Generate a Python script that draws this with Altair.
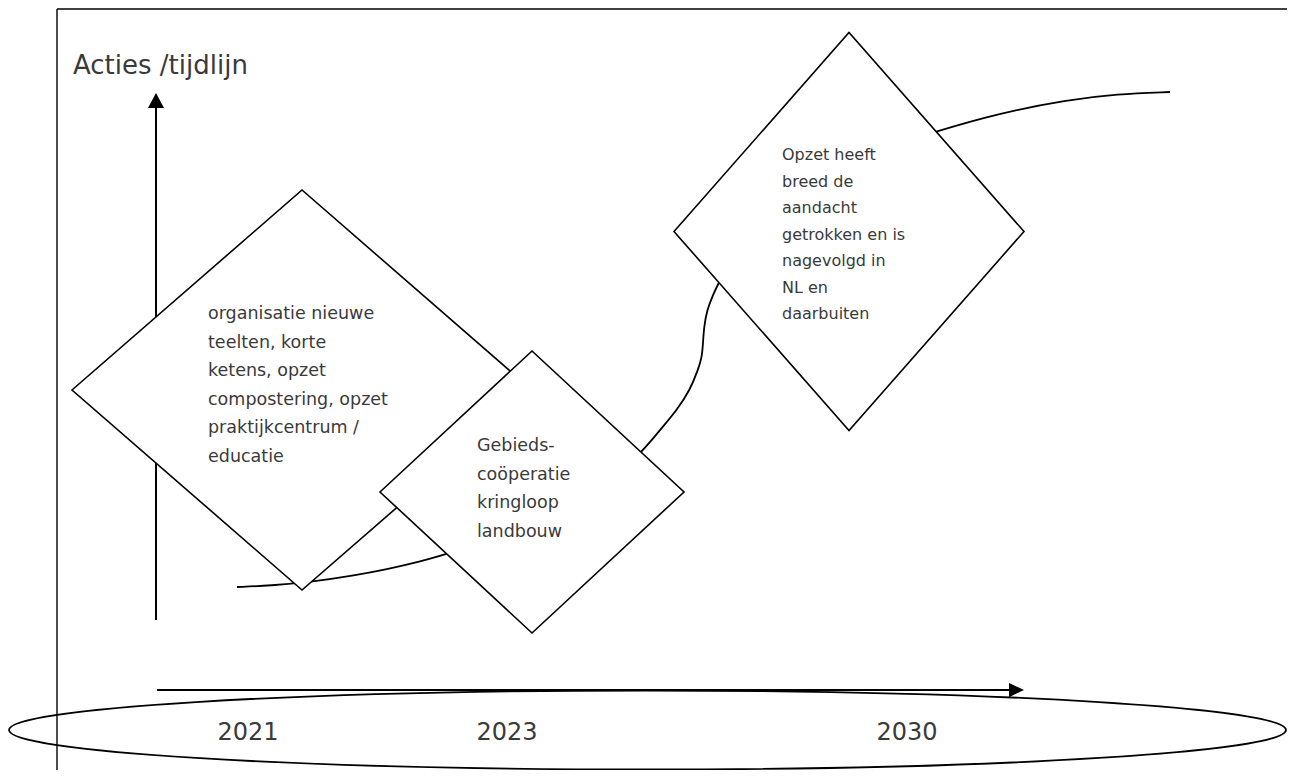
import altair as alt
import pandas as pd

# ---------------- data (page-pixel coordinate system) ----------------
# table borders
border_x = [57, 57]
border_y = [9, 9]
border_x2 = [1300, 57]
border_y2 = [9, 790]

# arrows (vertical "Acties" axis and horizontal time axis)
arrow_x = [156, 157]
arrow_y = [620, 690]
arrow_x2 = [156, 1010]
arrow_y2 = [108, 690]
head_x = [156, 1016.5]
head_y = [100.5, 690]
head_dir = ["up", "right"]

# S-shaped development curve
curve_x = [237, 270, 313, 353, 387, 420, 447, 500, 560, 610, 643, 660, 677, 690, 698,
           702, 703, 704, 707, 713, 718, 740, 780, 835, 890, 937, 1000, 1067, 1117, 1170]
curve_y = [587, 585.7, 581.7, 575.7, 569.3, 561.7, 554, 537, 512, 482, 451, 430, 410, 390, 370,
           357, 343, 327, 310, 295, 284, 243, 202, 168, 147, 131, 113, 100, 94, 92]

# diamonds: centre and half sizes
dia_id = ["d1", "d2", "d3"]
dia_cx = [302, 532, 849]
dia_cy = [390, 492, 231.5]
dia_hw = [230, 152, 175]
dia_hh = [200, 141, 199]

# texts in diamonds
dia_text = [
    ["organisatie nieuwe", "teelten, korte", "ketens, opzet",
     "compostering, opzet", "praktijkcentrum /", "educatie"],
    ["Gebieds-", "coöperatie", "kringloop", "landbouw"],
    ["Opzet heeft", "breed de", "aandacht", "getrokken en is",
     "nagevolgd in", "NL en", "daarbuiten"],
]
dia_text_x = [208, 477, 782]
dia_text_y = [319, 451, 160]

# title
title_text = ["Acties /tijdlijn"]
title_x = [73]
title_y = [74]

# years on the ellipse
years = ["2021", "2023", "2030"]
year_x = [248, 507, 907]
year_y = [740, 740, 740]

# ellipse
ell_cx = [647.5]
ell_cy = [730]
ell_rx = 638.5
ell_ry = 39.5

# ---------------- tables ----------------
X = alt.Scale(domain=[8, 1287], nice=False, zero=False)
Y = alt.Scale(domain=[8, 770], nice=False, zero=False, reverse=True)

def xe(f="x"):
    return alt.X(f"{f}:Q", scale=X, axis=None)

def ye(f="y"):
    return alt.Y(f"{f}:Q", scale=Y, axis=None)

borders = pd.DataFrame({"x": border_x, "y": border_y, "x2": border_x2, "y2": border_y2})
arrows = pd.DataFrame({"x": arrow_x, "y": arrow_y, "x2": arrow_x2, "y2": arrow_y2})
heads = pd.DataFrame({"x": head_x, "y": head_y, "dir": head_dir})
curve = pd.DataFrame({"x": curve_x, "y": curve_y, "i": range(len(curve_x))})

rows = []
for i, d in enumerate(dia_id):
    cx, cy, hw, hh = dia_cx[i], dia_cy[i], dia_hw[i], dia_hh[i]
    rows += [
        {"id": d, "x": cx - hw, "y": cy, "y2": cy},
        {"id": d, "x": cx, "y": cy - hh, "y2": cy + hh},
        {"id": d, "x": cx + hw, "y": cy, "y2": cy},
    ]
diamonds = pd.DataFrame(rows)

texts = pd.DataFrame({"x": dia_text_x, "y": dia_text_y,
                      "t": ["\n".join(t) for t in dia_text], "id": dia_id})
title = pd.DataFrame({"x": title_x, "y": title_y, "t": title_text})
yrs = pd.DataFrame({"x": year_x, "y": year_y, "t": years})
ell = pd.DataFrame({"x": ell_cx, "y": ell_cy})

# ---------------- marks ----------------
LINE = "#000000"
TXT = "#3a3a3a"
FONT = "DejaVu Sans"

border_layer = alt.Chart(borders).mark_rule(color=LINE, strokeWidth=1.4).encode(
    x=xe(), y=ye(), x2="x2:Q", y2="y2:Q")

arrow_layer = alt.Chart(arrows).mark_rule(color=LINE, strokeWidth=2).encode(
    x=xe(), y=ye(), x2="x2:Q", y2="y2:Q")

up_path = "M0,-1L1.07,1L-1.07,1Z"
right_path = "M1,0L-1,-0.95L-1,0.95Z"
head_up = alt.Chart(heads[heads.dir == "up"]).mark_point(
    shape=up_path, size=225, filled=True, color=LINE, opacity=1, strokeWidth=0.5).encode(
    x=xe(), y=ye())
head_right = alt.Chart(heads[heads.dir == "right"]).mark_point(
    shape=right_path, size=225, filled=True, color=LINE, opacity=1, strokeWidth=0.5).encode(
    x=xe(), y=ye())

curve_layer = alt.Chart(curve).mark_line(color=LINE, strokeWidth=1.8, interpolate="basis").encode(
    x=xe(), y=ye(), order="i:Q")

def diamond_layer(d):
    return alt.Chart(diamonds[diamonds.id == d]).mark_area(
        fill="white", fillOpacity=1, stroke=LINE, strokeWidth=1.6, interpolate="linear",
        strokeJoin="miter").encode(x=xe(), y=ye(), y2="y2:Q")

k = 0.5523
r = ell_ry / ell_rx
ell_path = (f"M-1,0C-1,{-k*r:.5f},{-k},{-r:.5f},0,{-r:.5f}"
            f"C{k},{-r:.5f},1,{-k*r:.5f},1,0"
            f"C1,{k*r:.5f},{k},{r:.5f},0,{r:.5f}"
            f"C{-k},{r:.5f},-1,{k*r:.5f},-1,0Z")
ell_layer = alt.Chart(ell).mark_point(
    shape=ell_path, size=(2 * ell_rx) ** 2, filled=False, stroke=LINE,
    strokeWidth=1.8, opacity=1).encode(x=xe(), y=ye())

text12 = alt.Chart(texts[texts.id != "d3"]).mark_text(
    align="left", baseline="alphabetic", font=FONT, fontSize=17.5, lineBreak="\n",
    lineHeight=28.5, color=TXT).encode(x=xe(), y=ye(), text="t:N")
text3 = alt.Chart(texts[texts.id == "d3"]).mark_text(
    align="left", baseline="alphabetic", font=FONT, fontSize=16, lineBreak="\n",
    lineHeight=26.5, color=TXT).encode(x=xe(), y=ye(), text="t:N")

title_layer = alt.Chart(title).mark_text(
    align="left", baseline="alphabetic", font=FONT, fontSize=26, color=TXT).encode(
    x=xe(), y=ye(), text="t:N")

year_layer = alt.Chart(yrs).mark_text(
    align="center", baseline="alphabetic", font=FONT, fontSize=24, color=TXT).encode(
    x=xe(), y=ye(), text="t:N")

chart = alt.layer(
    border_layer, arrow_layer, head_up, head_right, curve_layer,
    diamond_layer("d1"), diamond_layer("d2"), diamond_layer("d3"),
    ell_layer, text12, text3, title_layer, year_layer,
).properties(
    width=1279, height=762, padding=0, autosize=alt.AutoSizeParams(type="none"),
    background="white",
).configure_view(stroke=None)

chart.save("out.html", embed_options={"renderer": "svg", "actions": False})
